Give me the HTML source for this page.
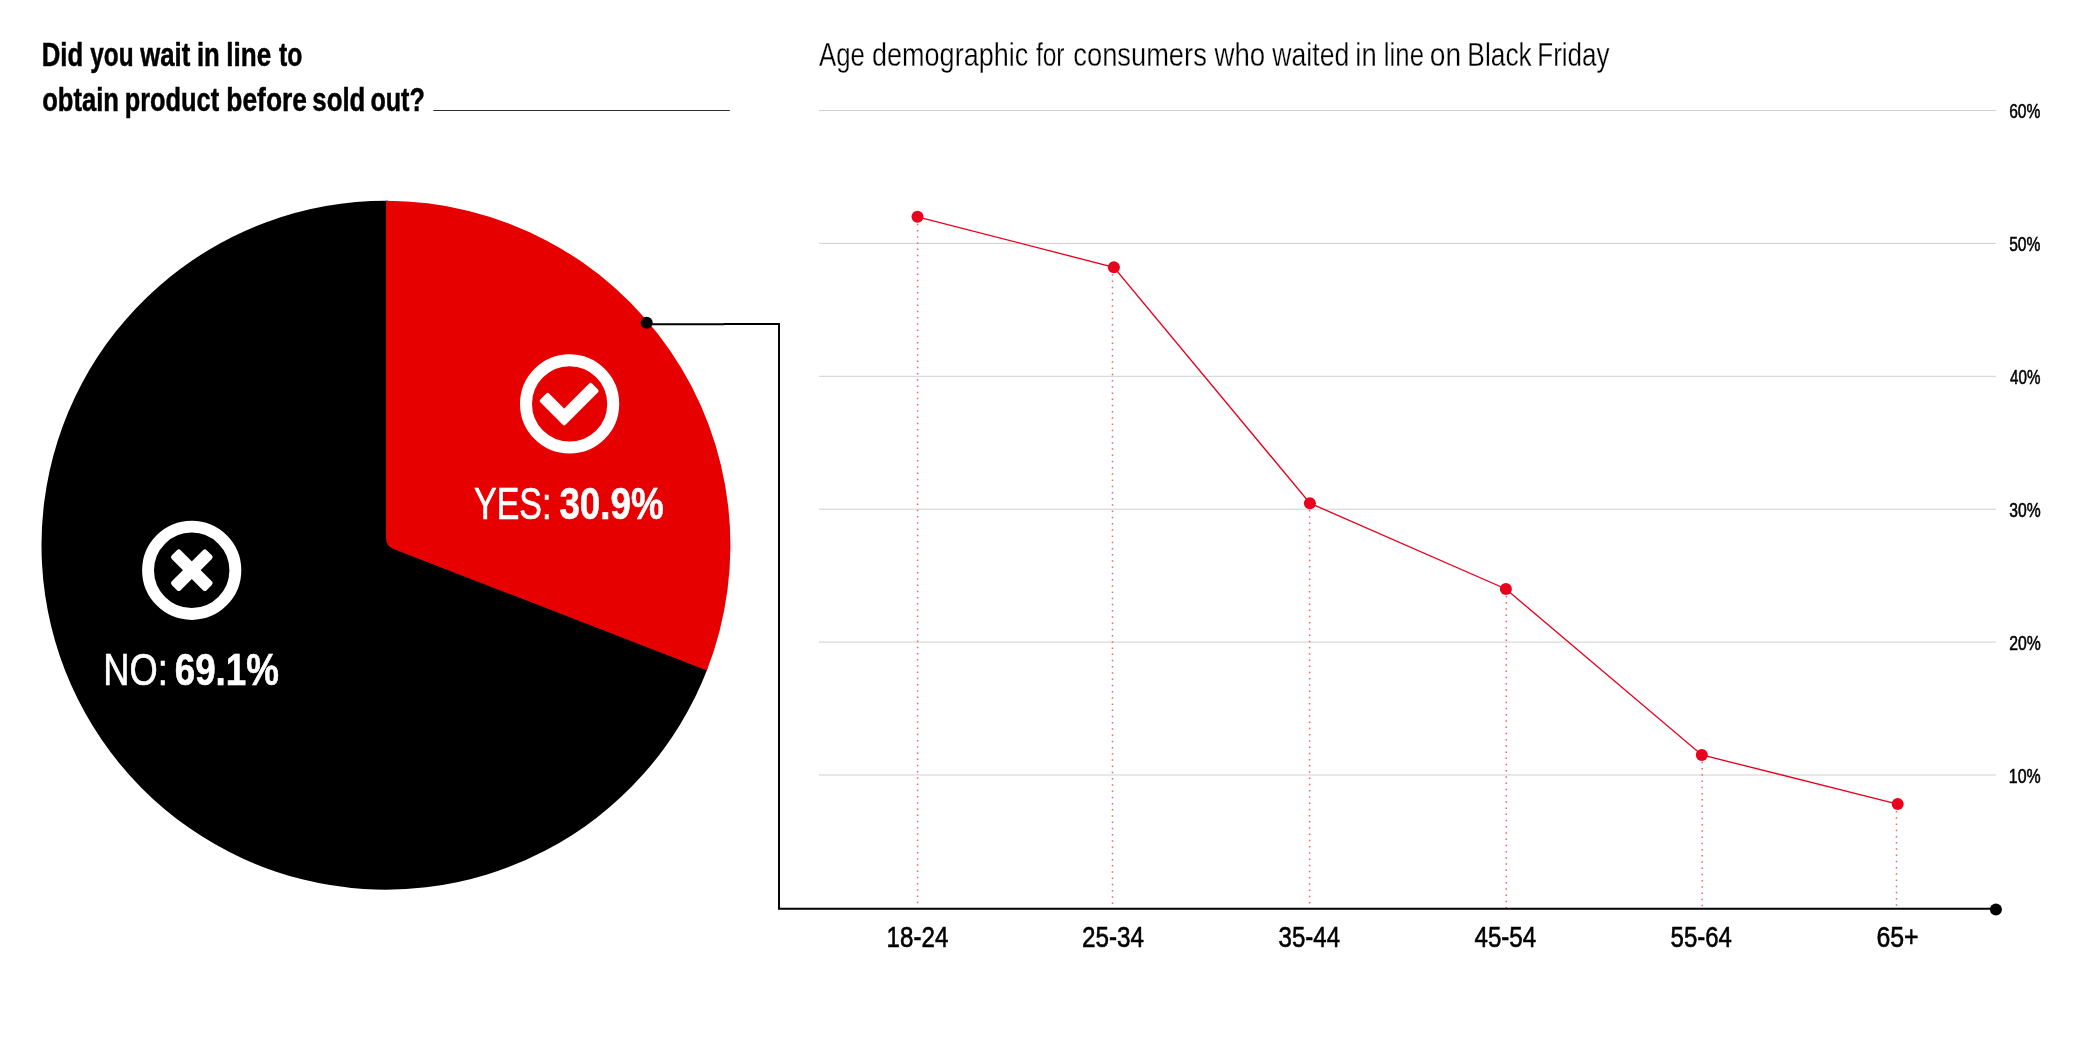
<!DOCTYPE html>
<html lang="en"><head><meta charset="utf-8"><title>Black Friday survey</title>
<style>
html,body{margin:0;padding:0;background:#fff}
body{width:2083px;height:1042px;overflow:hidden}
svg{display:block;will-change:transform}
text{font-family:"Liberation Sans",sans-serif}
</style></head><body>
<svg width="2083" height="1042" viewBox="0 0 2083 1042">
<rect width="2083" height="1042" fill="#fff"/>
<line x1="819" y1="110.50" x2="1996" y2="110.50" stroke="#d0d0d0" stroke-width="1"/>
<line x1="819" y1="243.40" x2="1996" y2="243.40" stroke="#d0d0d0" stroke-width="1"/>
<line x1="819" y1="376.30" x2="1996" y2="376.30" stroke="#d0d0d0" stroke-width="1"/>
<line x1="819" y1="509.20" x2="1996" y2="509.20" stroke="#d0d0d0" stroke-width="1"/>
<line x1="819" y1="642.10" x2="1996" y2="642.10" stroke="#d0d0d0" stroke-width="1"/>
<line x1="819" y1="775.00" x2="1996" y2="775.00" stroke="#d0d0d0" stroke-width="1"/>
<line x1="917.6" y1="223.7" x2="917.6" y2="908.75" stroke="#f4606a" stroke-width="1.5" stroke-dasharray="1.5 4.72"/>
<line x1="1112.5" y1="274.2" x2="1112.5" y2="908.75" stroke="#f4606a" stroke-width="1.5" stroke-dasharray="1.5 4.72"/>
<line x1="1309.6" y1="510.1" x2="1309.6" y2="908.75" stroke="#f4606a" stroke-width="1.5" stroke-dasharray="1.5 4.72"/>
<line x1="1506.3" y1="595.9" x2="1506.3" y2="908.75" stroke="#f4606a" stroke-width="1.5" stroke-dasharray="1.5 4.72"/>
<line x1="1702.2" y1="761.8" x2="1702.2" y2="908.75" stroke="#f4606a" stroke-width="1.5" stroke-dasharray="1.5 4.72"/>
<line x1="1896.5" y1="811.0" x2="1896.5" y2="908.75" stroke="#f4606a" stroke-width="1.5" stroke-dasharray="1.5 4.72"/>
<path d="M707.61,668.47 A344.45,344.45 0 1 1 388.05,200.81 L389.00,526.10 L398.00,548.10 Z" fill="#000"/>
<path d="M386.00,200.80 A344.45,344.45 0 0 1 706.85,670.43 L393.46,548.99 Q386.00,546.10 386.00,538.10 Z" fill="#e60000"/>
<polyline points="647,324.2 723.5,324.2 724.5,323.95 779,323.95 779,908.75 1996,908.75" fill="none" stroke="#000" stroke-width="1.95"/>
<circle cx="646.7" cy="322.7" r="6" fill="#000"/>
<circle cx="1995.9" cy="909.5" r="6" fill="#000"/>
<polyline points="917.5,216.8 1113.9,267.3 1309.9,503.2 1505.9,589.0 1701.8,754.9 1897.7,804.1" fill="none" stroke="#e8001e" stroke-width="1.35"/>
<circle cx="917.5" cy="216.8" r="6" fill="#e8001e"/>
<circle cx="1113.9" cy="267.3" r="6" fill="#e8001e"/>
<circle cx="1309.9" cy="503.2" r="6" fill="#e8001e"/>
<circle cx="1505.9" cy="589.0" r="6" fill="#e8001e"/>
<circle cx="1701.8" cy="754.9" r="6" fill="#e8001e"/>
<circle cx="1897.7" cy="804.1" r="6" fill="#e8001e"/>
<circle cx="569.6" cy="403.9" r="43.6" fill="none" stroke="#fff" stroke-width="12"/>
<polygon points="547.75,394.93 564.15,411.34 590.60,384.89 596.61,390.90 564.15,423.36 541.73,400.95" fill="#fff" stroke="#fff" stroke-width="4.0" stroke-linejoin="round"/>
<circle cx="191.7" cy="570.3" r="43.65" fill="none" stroke="#fff" stroke-width="11.9"/>
<g transform="translate(191.8 570.15) rotate(45)" fill="#fff"><rect x="-24.65" y="-6.25" width="49.3" height="12.5" rx="2.6"/><rect x="-6.25" y="-24.65" width="12.5" height="49.3" rx="2.6"/></g>
<text y="65.7" font-size="33.0" font-weight="700" fill="#000" stroke="#000" stroke-width="0.5"><tspan x="41.71" textLength="41.41" lengthAdjust="spacingAndGlyphs">Did</tspan> <tspan x="90.34" textLength="43.24" lengthAdjust="spacingAndGlyphs">you</tspan> <tspan x="140.31" textLength="50.02" lengthAdjust="spacingAndGlyphs">wait</tspan> <tspan x="196.94" textLength="22.84" lengthAdjust="spacingAndGlyphs">in</tspan> <tspan x="226.23" textLength="44.91" lengthAdjust="spacingAndGlyphs">line</tspan> <tspan x="278.92" textLength="23.36" lengthAdjust="spacingAndGlyphs">to</tspan></text>
<text y="110.6" font-size="33.0" font-weight="700" fill="#000" stroke="#000" stroke-width="0.5"><tspan x="42.18" textLength="76.77" lengthAdjust="spacingAndGlyphs">obtain</tspan> <tspan x="124.72" textLength="94.37" lengthAdjust="spacingAndGlyphs">product</tspan> <tspan x="226.30" textLength="80.69" lengthAdjust="spacingAndGlyphs">before</tspan> <tspan x="312.30" textLength="53.00" lengthAdjust="spacingAndGlyphs">sold</tspan> <tspan x="370.42" textLength="54.45" lengthAdjust="spacingAndGlyphs">out?</tspan></text>
<text y="65.7" font-size="32.7" font-weight="400" fill="#000" stroke="#fff" stroke-width="0.3"><tspan x="819.06" textLength="45.83" lengthAdjust="spacingAndGlyphs">Age</tspan> <tspan x="872.02" textLength="156.21" lengthAdjust="spacingAndGlyphs">demographic</tspan> <tspan x="1035.89" textLength="28.68" lengthAdjust="spacingAndGlyphs">for</tspan> <tspan x="1073.31" textLength="133.50" lengthAdjust="spacingAndGlyphs">consumers</tspan> <tspan x="1214.46" textLength="50.69" lengthAdjust="spacingAndGlyphs">who</tspan> <tspan x="1272.36" textLength="76.85" lengthAdjust="spacingAndGlyphs">waited</tspan> <tspan x="1355.34" textLength="21.35" lengthAdjust="spacingAndGlyphs">in</tspan> <tspan x="1383.85" textLength="40.12" lengthAdjust="spacingAndGlyphs">line</tspan> <tspan x="1429.81" textLength="31.31" lengthAdjust="spacingAndGlyphs">on</tspan> <tspan x="1467.36" textLength="64.41" lengthAdjust="spacingAndGlyphs">Black</tspan> <tspan x="1537.24" textLength="72.37" lengthAdjust="spacingAndGlyphs">Friday</tspan></text>
<text y="518.8" font-size="44.7" font-weight="400" fill="#fff" stroke="#fff" stroke-width="0.7"><tspan x="474.10" textLength="77.23" lengthAdjust="spacingAndGlyphs">YES:</tspan></text>
<text y="518.8" font-size="44.7" font-weight="700" fill="#fff" stroke="#fff" stroke-width="0.6"><tspan x="559.44" textLength="104.17" lengthAdjust="spacingAndGlyphs">30.9%</tspan></text>
<text y="684.6" font-size="44.7" font-weight="400" fill="#fff" stroke="#fff" stroke-width="0.7"><tspan x="103.29" textLength="64.46" lengthAdjust="spacingAndGlyphs">NO:</tspan></text>
<text y="684.6" font-size="44.7" font-weight="700" fill="#fff" stroke="#fff" stroke-width="0.6"><tspan x="174.72" textLength="104.14" lengthAdjust="spacingAndGlyphs">69.1%</tspan></text>
<text y="118.0" font-size="20.8" font-weight="400" fill="#000" stroke="#000" stroke-width="0.55"><tspan x="2009.15" textLength="31.26" lengthAdjust="spacingAndGlyphs">60%</tspan></text>
<text y="250.9" font-size="20.8" font-weight="400" fill="#000" stroke="#000" stroke-width="0.55"><tspan x="2009.19" textLength="31.25" lengthAdjust="spacingAndGlyphs">50%</tspan></text>
<text y="383.8" font-size="20.8" font-weight="400" fill="#000" stroke="#000" stroke-width="0.55"><tspan x="2010.03" textLength="30.36" lengthAdjust="spacingAndGlyphs">40%</tspan></text>
<text y="516.7" font-size="20.8" font-weight="400" fill="#000" stroke="#000" stroke-width="0.55"><tspan x="2009.29" textLength="31.40" lengthAdjust="spacingAndGlyphs">30%</tspan></text>
<text y="649.6" font-size="20.8" font-weight="400" fill="#000" stroke="#000" stroke-width="0.55"><tspan x="2009.22" textLength="31.56" lengthAdjust="spacingAndGlyphs">20%</tspan></text>
<text y="782.5" font-size="20.8" font-weight="400" fill="#000" stroke="#000" stroke-width="0.55"><tspan x="2008.86" textLength="31.84" lengthAdjust="spacingAndGlyphs">10%</tspan></text>
<text y="946.8" font-size="30.0" font-weight="400" fill="#000" stroke="#000" stroke-width="0.6"><tspan x="886.56" textLength="61.76" lengthAdjust="spacingAndGlyphs">18-24</tspan></text>
<text y="946.8" font-size="30.0" font-weight="400" fill="#000" stroke="#000" stroke-width="0.6"><tspan x="1082.08" textLength="61.92" lengthAdjust="spacingAndGlyphs">25-34</tspan></text>
<text y="946.8" font-size="30.0" font-weight="400" fill="#000" stroke="#000" stroke-width="0.6"><tspan x="1278.62" textLength="61.38" lengthAdjust="spacingAndGlyphs">35-44</tspan></text>
<text y="946.8" font-size="30.0" font-weight="400" fill="#000" stroke="#000" stroke-width="0.6"><tspan x="1474.53" textLength="61.57" lengthAdjust="spacingAndGlyphs">45-54</tspan></text>
<text y="946.8" font-size="30.0" font-weight="400" fill="#000" stroke="#000" stroke-width="0.6"><tspan x="1670.57" textLength="61.32" lengthAdjust="spacingAndGlyphs">55-64</tspan></text>
<text y="946.8" font-size="30.0" font-weight="400" fill="#000" stroke="#000" stroke-width="0.6"><tspan x="1876.42" textLength="42.21" lengthAdjust="spacingAndGlyphs">65+</tspan></text>
<line x1="433.4" y1="110.45" x2="729.8" y2="110.45" stroke="#2e2e2e" stroke-width="1.05"/>
</svg></body></html>
